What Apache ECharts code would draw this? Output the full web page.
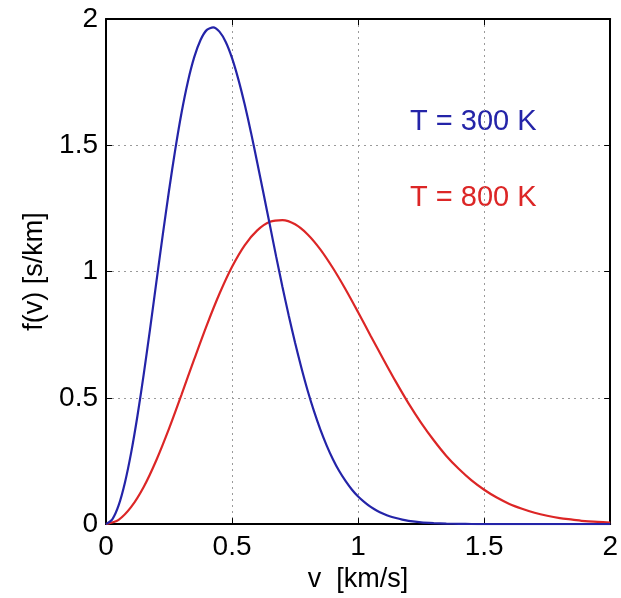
<!DOCTYPE html>
<html><head><meta charset="utf-8">
<script src="https://cdn.jsdelivr.net/npm/echarts@6/dist/echarts.min.js"></script>
<style>html,body{margin:0;padding:0;background:#fff}#c{width:621px;height:598px}</style>
</head><body><div id="c"></div>
<script>
// T = 300 K curve (v in km/s, f in s/km)
const v300 = [0,0.025,0.05,0.075,0.1,0.125,0.15,0.175,0.2,0.225,0.25,0.275,0.3,0.325,0.35,0.375,0.4,0.425,0.45,0.475,0.5,0.525,0.55,0.575,0.6,0.625,0.65,0.675,0.7,0.725,0.75,0.775,0.8,0.825,0.85,0.875,0.9,0.925,0.95,0.975,1.0,1.025,1.05,1.075,1.1,1.125,1.15,1.175,1.2,1.25,1.3,1.35,1.4,1.45,1.5,1.6,1.7,1.8,1.9,2.0];
const f300 = [0,0.019,0.074,0.164,0.284,0.430,0.596,0.774,0.960,1.144,1.321,1.485,1.631,1.753,1.849,1.917,1.957,1.967,1.950,1.909,1.845,1.761,1.662,1.551,1.431,1.308,1.184,1.059,0.939,0.825,0.718,0.619,0.528,0.447,0.375,0.312,0.257,0.210,0.171,0.137,0.109,0.087,0.068,0.053,0.041,0.031,0.024,0.018,0.013,0.007,0.004,0.002,0.001,0.0004,0.0002,0,0,0,0,0];
// T = 800 K curve
const v800 = [0,0.05,0.1,0.15,0.2,0.25,0.3,0.35,0.4,0.45,0.5,0.55,0.6,0.65,0.7,0.75,0.8,0.85,0.9,0.95,1.0,1.05,1.1,1.15,1.2,1.25,1.3,1.35,1.4,1.45,1.5,1.55,1.6,1.65,1.7,1.75,1.8,1.85,1.9,1.95,2.0];
const f800 = [0,0.017,0.068,0.148,0.254,0.378,0.514,0.653,0.788,0.912,1.019,1.104,1.163,1.197,1.204,1.187,1.147,1.088,1.014,0.930,0.839,0.745,0.653,0.563,0.478,0.401,0.332,0.270,0.218,0.173,0.136,0.105,0.080,0.061,0.045,0.033,0.024,0.018,0.012,0.009,0.006];
const xTickLabels = ['0','0.5','1','1.5','2'];
const yTickLabels = ['0','0.5','1','1.5','2'];
const annotations = [{text:'T = 300 K', color:'#2424a8'},{text:'T = 800 K', color:'#dc2626'}];
const xName = 'v  [km/s]';
const yName = 'f(v) [s/km]';

const chart = echarts.init(document.getElementById('c'));
const font = 'Liberation Sans, Arial, sans-serif';
const tickLabel = (arr) => (v) => arr[Math.round(v / 0.5)] ?? '';
const base = {
  type: 'value', min: 0, max: 2, interval: 0.5,
  axisLine: {show: true, onZero: false, lineStyle: {color: '#000', width: 2}},
  axisTick: {show: true, inside: true, length: 6, lineStyle: {color: '#000', width: 1}},
};
const grid = {type: [2, 4], color: '#9a9a9a', width: 1};
chart.setOption({
  animation: false,
  grid: {left: 106, top: 19, right: 6, bottom: 69},
  xAxis: [
    Object.assign({}, base, {
      position: 'bottom', name: xName, nameLocation: 'middle', nameGap: 41,
      nameTextStyle: {color: '#000', fontSize: 27, fontFamily: font},
      splitLine: {show: true, lineStyle: grid},
      axisLabel: {color: '#000', fontSize: 28, fontFamily: font, margin: 9, formatter: tickLabel(xTickLabels)}
    }),
    Object.assign({}, base, {position: 'top', splitLine: {show: false}, axisLabel: {show: false}})
  ],
  yAxis: [
    Object.assign({}, base, {
      position: 'left', name: yName, nameLocation: 'middle', nameGap: 54,
      nameTextStyle: {color: '#000', fontSize: 27, fontFamily: font},
      splitLine: {show: true, lineStyle: grid},
      axisLabel: {color: '#000', fontSize: 28, fontFamily: font, margin: 8, formatter: tickLabel(yTickLabels)}
    }),
    Object.assign({}, base, {position: 'right', splitLine: {show: false}, axisLabel: {show: false}})
  ],
  series: [
    {type: 'line', data: v300.map((v,i)=>[v,f300[i]]), smooth: 0.25, showSymbol: false,
     lineStyle: {color: annotations[0].color, width: 2.2}, z: 3},
    {type: 'line', data: v800.map((v,i)=>[v,f800[i]]), smooth: 0.3, showSymbol: false,
     lineStyle: {color: annotations[1].color, width: 2.2}, z: 2}
  ],
  graphic: [
    {type: 'text', left: 410, top: 107, style: {text: annotations[0].text, fill: annotations[0].color, font: '29px ' + font}},
    {type: 'text', left: 410, top: 183, style: {text: annotations[1].text, fill: annotations[1].color, font: '29px ' + font}}
  ]
});
</script></body></html>
